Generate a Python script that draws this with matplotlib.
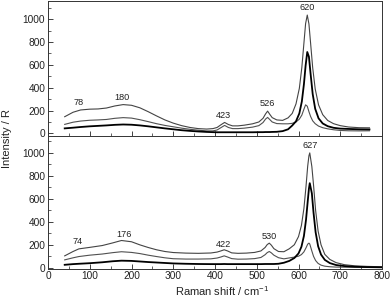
import matplotlib
matplotlib.use("Agg")
import matplotlib.pyplot as plt
from matplotlib.ticker import MultipleLocator

plt.rcParams['font.family'] = ['Liberation Sans', 'DejaVu Sans']

# ---------------- top panel data ----------------
x_top = [40, 60, 78, 100, 120, 140, 160, 180, 200, 220, 240, 260, 280, 300, 320, 340, 360, 380,
         395, 405, 414, 423, 432, 442, 455, 470, 490, 505, 515, 521, 526, 531, 537, 548, 562,
         575, 585, 594, 602, 608, 613, 617, 621, 625, 629, 634, 640, 648, 658, 670, 684, 700,
         720, 745, 770]
top_a = [146, 185, 205, 212, 214, 222, 240, 252, 246, 224, 190, 153, 118, 90, 68, 52, 42, 38,
         42, 52, 75, 96, 78, 66, 66, 72, 84, 100, 132, 170, 195, 168, 138, 118, 114,
         136, 175, 258, 394, 577, 791, 960, 1035, 957, 788, 574, 389, 250, 164, 113, 85, 68,
         56, 50, 49]
top_b = [79, 98, 108, 115, 118, 122, 132, 138, 134, 120, 103, 85, 70, 58, 46, 36, 28, 22,
         22, 30, 50, 70, 52, 42, 42, 46, 55, 68, 95, 125, 140, 122, 100, 86, 84,
         84, 88, 100, 125, 160, 212, 250, 238, 190, 148, 110, 85, 64, 50, 40, 32, 26,
         23, 22, 23]
top_c = [44, 50, 56, 62, 66, 70, 75, 78, 76, 70, 62, 53, 44, 36, 28, 22, 17, 13,
         11, 10, 10, 10, 10, 10, 10, 10, 10, 11, 11, 12, 12, 12, 13, 14, 20,
         36, 69, 106, 175, 279, 431, 592, 712, 670, 520, 344, 215, 132, 87, 63, 49, 42,
         39, 36, 35]

# ---------------- bottom panel data ----------------
x_bot = [40, 60, 74, 100, 130, 155, 176, 200, 220, 240, 260, 280, 300, 330, 360, 390, 405, 414,
         422, 430, 440, 455, 475, 495, 510, 520, 525, 530, 535, 541, 552, 565, 578, 590, 600,
         607, 613, 618, 622, 625, 627, 632, 636, 641, 647, 654, 663, 675, 690, 710, 735, 765, 800]
bot_a = [102, 140, 163, 176, 192, 215, 236, 225, 198, 175, 155, 140, 131, 126, 124, 127, 135, 145,
         155, 145, 128, 124, 126, 132, 145, 175, 200, 213, 195, 165, 140, 138, 164, 199, 270,
         367, 516, 708, 884, 975, 1000, 880, 720, 498, 317, 198, 115, 71, 43, 25, 15, 10, 7]
bot_b = [67, 85, 96, 108, 118, 130, 138, 132, 122, 108, 96, 85, 77, 74, 74, 76, 83, 92,
         102, 92, 78, 73, 74, 78, 88, 112, 130, 140, 128, 108, 86, 76, 84, 91, 99,
         113, 137, 172, 204, 213, 205, 144, 98, 61, 36, 21, 12, 7, 4, 3, 2, 2, 1]
bot_c = [24, 30, 33, 38, 46, 55, 60, 58, 53, 48, 44, 40, 36, 33, 31, 30, 30, 30,
         31, 30, 30, 30, 30, 30, 30, 31, 31, 31, 31, 31, 33, 42, 58, 83, 123,
         181, 276, 417, 574, 689, 736, 647, 479, 308, 186, 113, 67, 39, 22, 13, 7, 4, 2]

# peak labels
top_lbl_x = [74, 178, 420, 525, 620]
top_lbl_y = [268, 311, 157, 259, 1102]
top_lbl = ["78", "180", "423", "526", "620"]
bot_lbl_x = [71, 182, 420, 529, 627]
bot_lbl_y = [227, 290, 204, 271, 1067]
bot_lbl = ["74", "176", "422", "530", "627"]

xticks = [0, 100, 200, 300, 400, 500, 600, 700, 800]
yticks = [0, 200, 400, 600, 800, 1000]

fig = plt.figure(figsize=(3.92, 3.02), dpi=100)
L, W = 48 / 392, (382 - 48) / 392
ax1 = fig.add_axes([L, 1 - 135.7 / 302, W, 134.7 / 302])
ax2 = fig.add_axes([L, 1 - 268.7 / 302, W, 133 / 302])

def style(ax, ylim, xlabels):
    ax.set_xlim(0, 800)
    ax.set_ylim(*ylim)
    ax.set_xticks(xticks)
    ax.set_yticks(yticks)
    ax.xaxis.set_minor_locator(MultipleLocator(50))
    ax.yaxis.set_minor_locator(MultipleLocator(100))
    ax.tick_params(which='both', direction='in', top=False, right=False,
                   labelsize=7.3, colors='#222222', pad=2)
    ax.tick_params(which='major', length=3.5, width=0.6)
    ax.tick_params(which='minor', length=2, width=0.5)
    if not xlabels:
        ax.tick_params(axis='x', labelbottom=False)
    for s in ax.spines.values():
        s.set_linewidth(0.7)
        s.set_color('#333333')

for ax, x, a, b, c, lx, ly, lt, ylim, xl in [
        (ax1, x_top, top_a, top_b, top_c, top_lbl_x, top_lbl_y, top_lbl, (-20, 1158), False),
        (ax2, x_bot, bot_a, bot_b, bot_c, bot_lbl_x, bot_lbl_y, bot_lbl, (-10, 1150), True)]:
    ax.plot(x, a, color='#444444', lw=0.8)
    ax.plot(x, b, color='#505050', lw=0.8)
    ax.plot(x, c, color='#000000', lw=1.3)
    for xx, yy, t in zip(lx, ly, lt):
        ax.text(xx, yy, t, ha='center', va='center', fontsize=6.6, color='#222222')
    style(ax, ylim, xl)

fig.text(222 / 392, 1 - 291 / 302, r'Raman shift / cm$^{\mathregular{-1}}$', ha='center',
         va='center', fontsize=8.0, color='#222222')
fig.text(7 / 392, 1 - 138 / 302, 'Intensity / R', rotation=90, ha='center', va='center',
         fontsize=8.0, color='#222222')

fig.savefig('out.png', dpi=100)
